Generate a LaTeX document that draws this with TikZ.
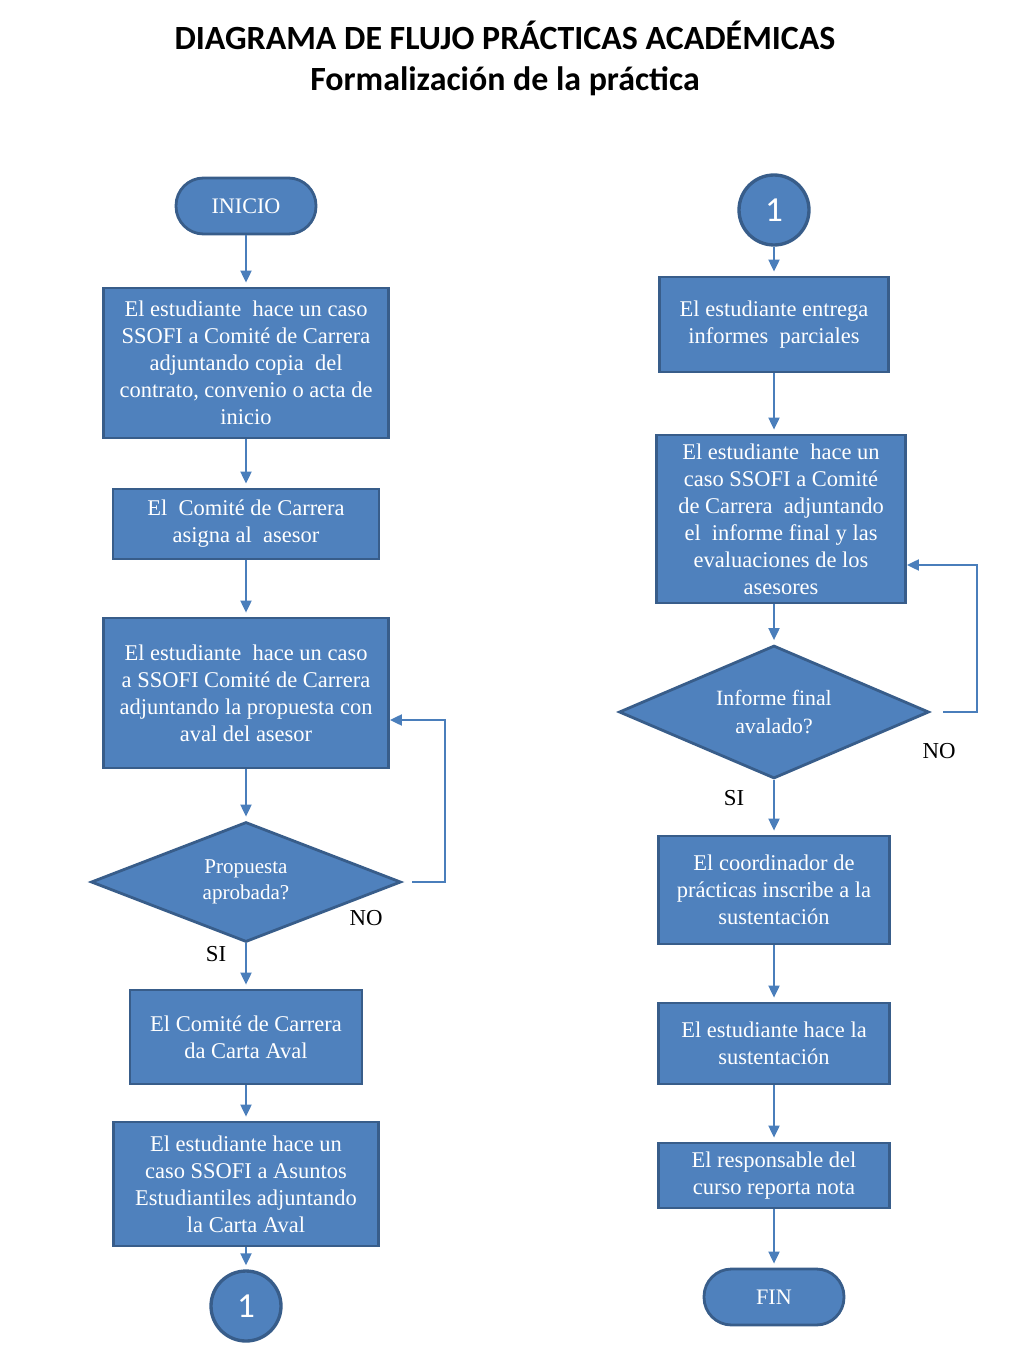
\documentclass[tikz,border=0pt]{standalone}
\usepackage{fontspec}
\setmainfont{Liberation Serif}
\newfontfamily\headfont{Carlito}
\usepackage{xcolor}
\usepackage{tikz}
\usetikzlibrary{arrows.meta}
\usetikzlibrary{shapes.geometric}
\usetikzlibrary{calc}
\definecolor{boxblue}{HTML}{4F81BD}
\definecolor{edgeblue}{HTML}{385D8A}
\definecolor{lineblue}{HTML}{4A7EBB}

\begin{document}
\begin{tikzpicture}[x=0.02cm, y=-0.02cm,
    procbox/.style={draw=edgeblue, line width=1.6pt, fill=boxblue, text=white, align=center, inner sep=0pt, font=\fontsize{12.8}{15.4}\selectfont},
    decbox/.style={procbox, diamond, aspect=2.5, font=\fontsize{12.4}{15.4}\selectfont},
    termbox/.style={procbox, rounded corners=0.55cm, minimum width=2.8cm, minimum height=1.12cm, font=\fontsize{12.6}{15.4}\selectfont},
    joinbox/.style={procbox, circle, minimum size=1.4cm, line width=1.9pt, font=\headfont\fontsize{20}{20}\selectfont},
    flowarrow/.style={draw=lineblue, line width=1.1pt, -{Triangle[length=0.24cm, width=0.22cm]}, shorten >=0.08cm},
    answer/.style={font=\fontsize{13}{15}\selectfont}
  ]
      \useasboundingbox (0,0) rectangle (1024,1365);

      \node[font=\headfont\bfseries\fontsize{19.3}{23.2}\selectfont, align=center] (title) at (505,58.5)
        {DIAGRAMA DE FLUJO PRÁCTICAS ACADÉMICAS\\Formalización de la práctica};

      \node[termbox] (inicio) at (246,206) {INICIO};
      \node[procbox, minimum width=5.7cm, minimum height=3.0cm] (caso1) at (246,363)
        {El estudiante\ \ hace un caso\\SSOFI a Comité de Carrera\\adjuntando copia\ \ del\\contrato, convenio o acta de\\inicio};
      \node[procbox, minimum width=5.32cm, minimum height=1.4cm] (asigna) at (246,524)
        {El\ \ Comité de Carrera\\asigna al\ \ asesor};
      \node[procbox, minimum width=5.7cm, minimum height=3.0cm] (propuesta) at (246,693)
        {El estudiante\ \ hace un caso\\a SSOFI Comité de Carrera\\adjuntando la propuesta con\\aval del asesor};
      \node[decbox, minimum width=6.2cm, minimum height=2.4cm, font=\fontsize{12}{15}\selectfont] (aprobada) at (246,882)
        {Propuesta\\aprobada?};
      \node[procbox, minimum width=4.64cm, minimum height=1.88cm] (aval) at (246,1037)
        {El Comité de Carrera\\da Carta Aval};
      \node[procbox, minimum width=5.3cm, minimum height=2.48cm] (asuntos) at (246,1184)
        {El estudiante hace un\\caso SSOFI a Asuntos\\Estudiantiles adjuntando\\la Carta Aval};
      \node[joinbox] (conL) at (246,1306) {1};

      \node[joinbox] (conR) at (774,210) {1};
      \node[procbox, minimum width=4.58cm, minimum height=1.9cm] (entrega) at (774,324.5)
        {El estudiante entrega\\informes\ \ parciales};
      \node[procbox, minimum width=4.98cm, minimum height=3.36cm] (final) at (781,519)
        {El estudiante\ \ hace un\\caso SSOFI a Comité\\de Carrera\ \ adjuntando\\el\ \ informe final y las\\evaluaciones de los\\asesores};
      \node[decbox, minimum width=6.2cm, minimum height=2.66cm] (avalado) at (774,712)
        {Informe final\\avalado?};
      \node[procbox, minimum width=4.62cm, minimum height=2.16cm] (inscribe) at (774,890)
        {El coordinador de\\prácticas inscribe a la\\sustentación};
      \node[procbox, minimum width=4.62cm, minimum height=1.62cm] (sustenta) at (774,1043.5)
        {El estudiante hace la\\sustentación};
      \node[procbox, minimum width=4.62cm, minimum height=1.3cm] (nota) at (774,1175.5)
        {El responsable del\\curso reporta nota};
      \node[termbox] (fin) at (774,1297) {FIN};

      \node[answer] (no1) at (366,918) {NO};
      \node[answer] (si1) at (216,954) {SI};
      \node[answer] (no2) at (939,751) {NO};
      \node[answer] (si2) at (734,798) {SI};

      \draw[flowarrow] (inicio) -- (caso1);
      \draw[flowarrow] (caso1) -- (asigna);
      \draw[flowarrow] (asigna) -- (propuesta);
      \draw[flowarrow] (propuesta) -- (aprobada);
      \draw[flowarrow] (aprobada) -- (aval);
      \draw[flowarrow] (aval) -- (asuntos);
      \draw[flowarrow] (asuntos) -- (conL);
      \draw[flowarrow, shorten <=0.2cm, shorten >=0pt] (aprobada.east) -- ++(43,0) |- ([yshift=-0.54cm]propuesta.east);

      \draw[flowarrow] (conR) -- (entrega);
      \draw[flowarrow] (entrega) -- (entrega |- final.north);
      \draw[flowarrow] (final.south -| avalado) -- (avalado);
      \draw[flowarrow] (avalado) -- (inscribe);
      \draw[flowarrow] (inscribe) -- (sustenta);
      \draw[flowarrow] (sustenta) -- (nota);
      \draw[flowarrow] (nota) -- (fin);
      \draw[flowarrow, shorten <=0.26cm, shorten >=0pt] (avalado.east) -- ++(47,0) |- ([yshift=-0.92cm]final.east);

    \end{tikzpicture}
\end{document}
